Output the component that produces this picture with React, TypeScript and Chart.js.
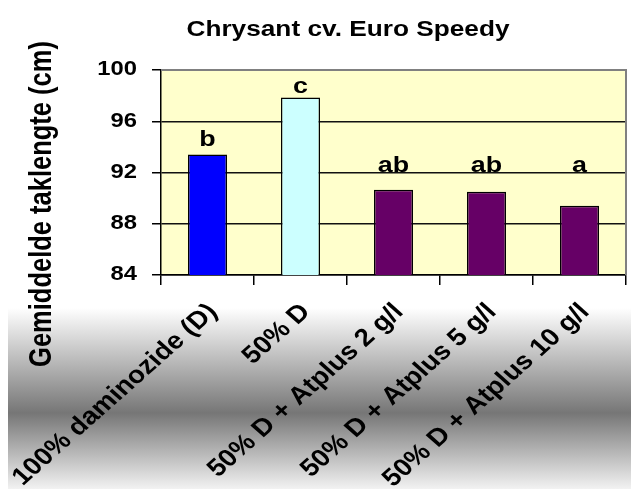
import React, { useEffect, useRef } from "react";
import { Chart, registerables } from "chart.js";

Chart.register(...registerables);

const chartTitle = "Chrysant cv. Euro Speedy";
const yAxisTitle = "Gemiddelde taklengte (cm)";
const categories = [
  "100% daminozide (D)",
  "50% D",
  "50% D + Atplus 2 g/l",
  "50% D + Atplus 5 g/l",
  "50% D + Atplus 10 g/l",
];
const values = [93.4, 97.85, 90.65, 90.5, 89.4];
const barColors = ["#0000FF", "#CCFFFF", "#660066", "#660066", "#660066"];
const letters = ["b", "c", "ab", "ab", "a"];
const letterLevels = [94.1, 98.2, 92.05, 92.05, 92.05];
const yMin = 84;
const yMax = 100;
const yStep = 4;

const FONT = "'Liberation Sans', Arial, Helvetica, sans-serif";

function stretchedText(
  ctx: CanvasRenderingContext2D,
  text: string,
  x: number,
  y: number,
  size: number,
  align: CanvasTextAlign,
  baseline: CanvasTextBaseline,
  rotation = 0,
  sx = 1.22
) {
  ctx.save();
  ctx.translate(x, y);
  ctx.scale(sx, 1);
  if (rotation) ctx.rotate(rotation);
  ctx.font = `bold ${size}px ${FONT}`;
  ctx.fillStyle = "#000";
  ctx.textAlign = align;
  ctx.textBaseline = baseline;
  ctx.fillText(text, 0, 0);
  ctx.restore();
}

const decorPlugin = {
  id: "decor",
  beforeDraw(chart: any) {
    const { ctx, chartArea, width, height } = chart;
    ctx.save();
    ctx.fillStyle = "#ffffff";
    ctx.fillRect(0, 0, width, height);
    const g = ctx.createLinearGradient(0, 308, 0, 489);
    g.addColorStop(0, "#ffffff");
    g.addColorStop(0.58, "#767676");
    g.addColorStop(1, "#f2f2f2");
    ctx.fillStyle = g;
    ctx.fillRect(8, 308, width - 8, 181);
    ctx.fillStyle = "#FFFFCC";
    ctx.fillRect(
      chartArea.left,
      chartArea.top,
      chartArea.right - chartArea.left,
      chartArea.bottom - chartArea.top
    );
    ctx.restore();
  },
  afterDraw(chart: any) {
    const { ctx, chartArea } = chart;
    const x = chart.scales.x;
    const y = chart.scales.y;
    ctx.save();
    ctx.strokeStyle = "#808080";
    ctx.lineWidth = 2;
    ctx.beginPath();
    ctx.moveTo(chartArea.left, chartArea.top);
    ctx.lineTo(chartArea.right, chartArea.top);
    ctx.lineTo(chartArea.right, chartArea.bottom);
    ctx.stroke();
    ctx.restore();

    stretchedText(ctx, chartTitle, 348, 36, 21.5, "center", "alphabetic");
    stretchedText(ctx, yAxisTitle, 42, 204, 25.5, "center", "middle", -Math.PI / 2);
    y.ticks.forEach((t: any) => {
      stretchedText(
        ctx,
        String(t.value),
        chartArea.left - 24,
        y.getPixelForValue(t.value),
        19.5,
        "right",
        "middle"
      );
    });
    categories.forEach((c, i) => {
      stretchedText(
        ctx,
        c,
        x.getPixelForValue(i) + 11,
        chartArea.bottom + 38,
        24.5,
        "right",
        "alphabetic",
        -Math.PI / 4,
        1.13
      );
    });
    letters.forEach((l, i) => {
      stretchedText(
        ctx,
        l,
        x.getPixelForValue(i),
        y.getPixelForValue(letterLevels[i]),
        22,
        "center",
        "alphabetic"
      );
    });
  },
};

export default function App() {
  const ref = useRef<HTMLCanvasElement | null>(null);
  useEffect(() => {
    if (!ref.current) return;
    const chart = new Chart(ref.current, {
      type: "bar",
      data: {
        labels: categories,
        datasets: [
          {
            data: values,
            backgroundColor: barColors,
            borderColor: "#000000",
            borderWidth: 1.5,
            borderSkipped: false,
            barPercentage: 0.42,
            categoryPercentage: 1,
          },
        ],
      },
      options: {
        animation: false,
        responsive: false,
        devicePixelRatio: 1,
        layout: { padding: { left: 0, right: 5, top: 70, bottom: 0 } },
        plugins: {
          legend: { display: false },
          title: { display: false },
          tooltip: { enabled: false },
        },
        scales: {
          x: {
            offset: true,
            ticks: { display: false },
            grid: {
              offset: true,
              drawOnChartArea: false,
              drawTicks: true,
              tickLength: 10,
              color: "#000000",
              lineWidth: 1.5,
            },
            border: { display: true, color: "#000000", width: 1.5 },
            afterFit: (s: any) => {
              s.height = 218;
            },
          },
          y: {
            min: yMin,
            max: yMax,
            ticks: { display: false, stepSize: yStep },
            grid: {
              drawTicks: true,
              tickLength: 9,
              tickColor: "#000000",
              tickWidth: 1.5,
              color: (c: any) =>
                c.tick && c.tick.value === yMax ? "rgba(0,0,0,0)" : "#111111",
              lineWidth: 1.5,
            },
            border: { display: true, color: "#000000", width: 1.5 },
            afterFit: (s: any) => {
              s.width = 161;
            },
          },
        },
      },
      plugins: [decorPlugin],
    });
    return () => chart.destroy();
  }, []);
  return (
    <div style={{ position: "fixed", left: 0, top: 0, width: 631, height: 493 }}>
      <canvas ref={ref} width={631} height={493} style={{ display: "block" }} />
    </div>
  );
}
